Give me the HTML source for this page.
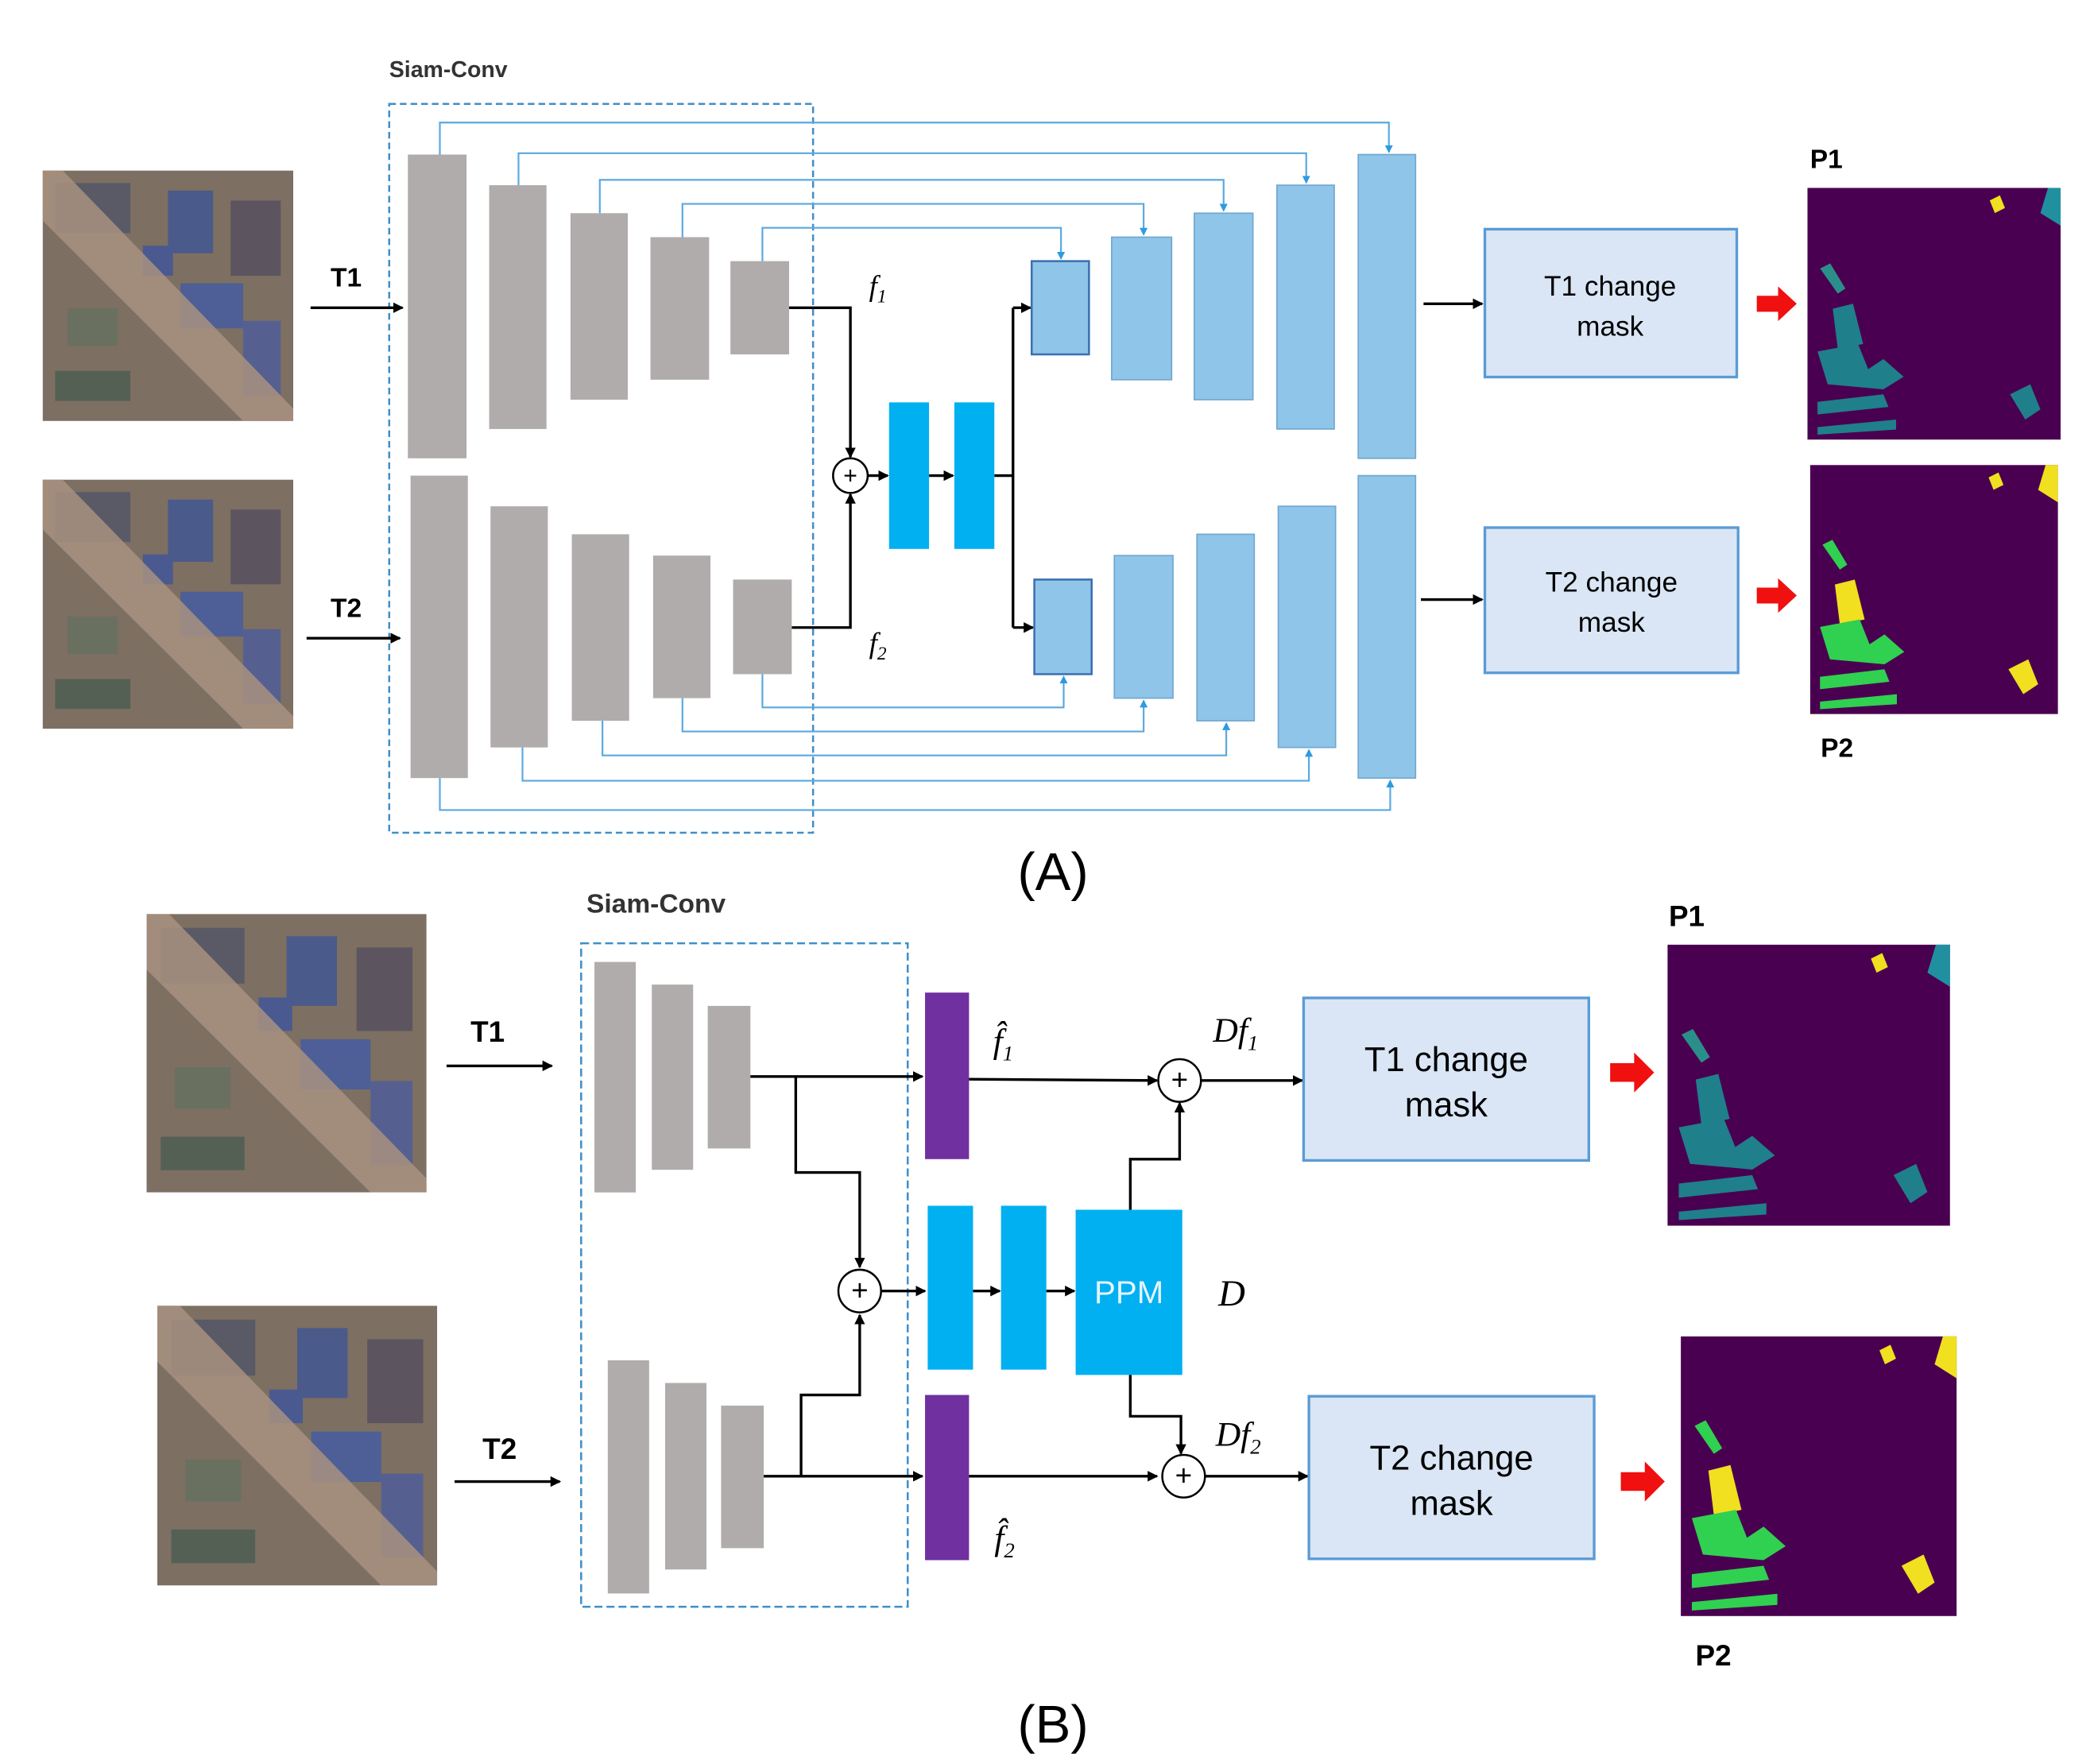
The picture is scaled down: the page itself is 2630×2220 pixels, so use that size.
<!DOCTYPE html>
<html><head><meta charset="utf-8"><style>html,body{margin:0;padding:0;background:#fff}svg{display:block}</style></head>
<body>
<svg width="2630" height="2220" viewBox="0 0 1568 1324" preserveAspectRatio="none" xmlns="http://www.w3.org/2000/svg" font-family="Liberation Sans, sans-serif">
<defs>
<marker id="ab" markerWidth="8" markerHeight="8" refX="7" refY="4" orient="auto" markerUnits="userSpaceOnUse"><path d="M0,0 L8,4 L0,8 z" fill="#000"/></marker>
<marker id="al" markerWidth="6" markerHeight="6" refX="5" refY="3" orient="auto" markerUnits="userSpaceOnUse"><path d="M0,0 L6,3 L0,6 z" fill="#2e9be0"/></marker>
<symbol id="sat" viewBox="0 0 100 100" preserveAspectRatio="none">
<rect width="100" height="100" fill="#7d6f62"/>
<rect x="5" y="5" width="30" height="20" fill="#5a5a66"/><rect x="50" y="8" width="18" height="25" fill="#4a5a8a"/>
<rect x="75" y="12" width="20" height="30" fill="#5c5560"/><rect x="55" y="45" width="25" height="18" fill="#4d5f96"/>
<rect x="80" y="60" width="15" height="30" fill="#566090"/><rect x="10" y="55" width="20" height="15" fill="#6a7060"/>
<rect x="5" y="80" width="30" height="12" fill="#556055"/><rect x="40" y="30" width="12" height="12" fill="#4a5a90"/>
<path d="M0,20 L80,100 L100,100 L100,95 L8,0 L0,0z" fill="#a89280" opacity="0.85"/>
</symbol>
<symbol id="mask" viewBox="0 0 100 100" preserveAspectRatio="none">
<rect width="100" height="100" fill="#4a0050"/>
<path d="M72,5 L76,3 L78,8 L74,10z" fill="#f0e020"/><path d="M95,0 L100,0 L100,15 L92,10z" fill="#2090a0"/>
<path d="M5,32 L9,30 L15,40 L12,42z" fill="#2a8f8a"/><path d="M10,48 L18,46 L22,62 L12,64z" fill="#1f7f8a"/>
<path d="M4,65 L20,62 L24,72 L30,68 L38,75 L30,80 L8,78z" fill="#1f7f8a"/><path d="M4,85 L30,82 L32,87 L4,90z" fill="#1f7f8a"/>
<path d="M4,95 L35,92 L35,96 L4,98z" fill="#1f7f8a"/><path d="M80,82 L88,78 L92,88 L86,92z" fill="#1f7f8a"/>
</symbol>
<symbol id="mask2" viewBox="0 0 100 100" preserveAspectRatio="none">
<rect width="100" height="100" fill="#4a0050"/>
<path d="M72,5 L76,3 L78,8 L74,10z" fill="#f0e020"/><path d="M95,0 L100,0 L100,15 L92,10z" fill="#f0e020"/>
<path d="M5,32 L9,30 L15,40 L12,42z" fill="#30d050"/><path d="M10,48 L18,46 L22,62 L12,64z" fill="#f0e020"/>
<path d="M4,65 L20,62 L24,72 L30,68 L38,75 L30,80 L8,78z" fill="#30d050"/><path d="M4,85 L30,82 L32,87 L4,90z" fill="#30d050"/>
<path d="M4,95 L35,92 L35,96 L4,98z" fill="#30d050"/><path d="M80,82 L88,78 L92,88 L86,92z" fill="#f0e020"/>
</symbol>
</defs>
<rect width="1568" height="1324" fill="#fff"/>

<!-- (A) -->
<text x="292" y="58" font-size="17" font-weight="bold" fill="#333">Siam-Conv</text>
<rect x="292" y="78" width="318" height="547" fill="none" stroke="#3f8fc8" stroke-width="1.5" stroke-dasharray="5,3"/>
<use href="#sat" x="32" y="128" width="188" height="188"/>
<use href="#sat" x="32" y="360" width="188" height="187"/>
<text x="248" y="215" font-size="20" font-weight="bold">T1</text>
<text x="248" y="463" font-size="20" font-weight="bold">T2</text>
<g stroke="#000" stroke-width="2" fill="none">
<line x1="233" y1="231" x2="302" y2="231" marker-end="url(#ab)"/>
<line x1="230" y1="479" x2="300" y2="479" marker-end="url(#ab)"/>
<polyline points="592,231 638,231 638,343" marker-end="url(#ab)"/>
<polyline points="594,471 638,471 638,371" marker-end="url(#ab)"/>
<line x1="651" y1="357" x2="666" y2="357" marker-end="url(#ab)"/>
<line x1="697" y1="357" x2="715" y2="357" marker-end="url(#ab)"/>
<line x1="746" y1="357" x2="760" y2="357"/>
<line x1="760" y1="231" x2="760" y2="471"/>
<line x1="760" y1="231" x2="773" y2="231" marker-end="url(#ab)"/>
<line x1="760" y1="471" x2="775" y2="471" marker-end="url(#ab)"/>
<line x1="1068" y1="228" x2="1112" y2="228" marker-end="url(#ab)"/>
<line x1="1066" y1="450" x2="1112" y2="450" marker-end="url(#ab)"/>
</g>
<circle cx="638" cy="357" r="13" fill="#fff" stroke="#000" stroke-width="1.5"/>
<text x="638" y="363" font-size="18" text-anchor="middle">+</text>
<g fill="#b0acab">
<rect x="306" y="116" width="44" height="228"/><rect x="367" y="139" width="43" height="183"/><rect x="428" y="160" width="43" height="140"/><rect x="488" y="178" width="44" height="107"/><rect x="548" y="196" width="44" height="70"/>
<rect x="308" y="357" width="43" height="227"/><rect x="368" y="380" width="43" height="181"/><rect x="429" y="401" width="43" height="140"/><rect x="490" y="417" width="43" height="107"/><rect x="550" y="435" width="44" height="71"/>
</g>
<g fill="#00b0f0"><rect x="667" y="302" width="30" height="110"/><rect x="716" y="302" width="30" height="110"/></g>
<g fill="#8fc5e8" stroke="#6fa8d0" stroke-width="1">
<rect x="774" y="196" width="43" height="70" stroke="#3a6fb0" stroke-width="1.5"/><rect x="834" y="178" width="45" height="107"/><rect x="896" y="160" width="44" height="140"/><rect x="958" y="139" width="43" height="183"/><rect x="1019" y="116" width="43" height="228"/>
<rect x="776" y="435" width="43" height="71" stroke="#3a6fb0" stroke-width="1.5"/><rect x="836" y="417" width="44" height="107"/><rect x="898" y="401" width="43" height="140"/><rect x="959" y="380" width="43" height="181"/><rect x="1019" y="357" width="43" height="227"/>
</g>
<g stroke="#5aa8e0" stroke-width="1.3" fill="none">
<polyline points="330,116 330,92 1042,92 1042,114" marker-end="url(#al)"/>
<polyline points="389,139 389,115 980,115 980,137" marker-end="url(#al)"/>
<polyline points="450,160 450,135 918,135 918,158" marker-end="url(#al)"/>
<polyline points="512,178 512,153 858,153 858,176" marker-end="url(#al)"/>
<polyline points="572,196 572,171 796,171 796,194" marker-end="url(#al)"/>
<polyline points="572,506 572,531 798,531 798,508" marker-end="url(#al)"/>
<polyline points="512,524 512,549 858,549 858,526" marker-end="url(#al)"/>
<polyline points="452,541 452,567 920,567 920,543" marker-end="url(#al)"/>
<polyline points="392,561 392,586 982,586 982,563" marker-end="url(#al)"/>
<polyline points="330,584 330,608 1043,608 1043,586" marker-end="url(#al)"/>
</g>
<text x="652" y="222" font-size="22" font-style="italic" font-family="Liberation Serif, serif">f<tspan font-size="14" dy="5">1</tspan></text>
<text x="652" y="490" font-size="22" font-style="italic" font-family="Liberation Serif, serif">f<tspan font-size="14" dy="5">2</tspan></text>
<rect x="1114" y="172" width="189" height="111" fill="#dae6f5" stroke="#5b9bd5" stroke-width="2"/>
<text x="1208" y="222" font-size="21" text-anchor="middle">T1 change</text><text x="1208" y="252" font-size="21" text-anchor="middle">mask</text>
<rect x="1114" y="396" width="190" height="109" fill="#dae6f5" stroke="#5b9bd5" stroke-width="2"/>
<text x="1209" y="444" font-size="21" text-anchor="middle">T2 change</text><text x="1209" y="474" font-size="21" text-anchor="middle">mask</text>
<path d="M1318,222 L1334,222 L1334,215 L1348,228 L1334,241 L1334,234 L1318,234z" fill="#f01010"/>
<path d="M1318,441 L1334,441 L1334,434 L1348,447 L1334,460 L1334,453 L1318,453z" fill="#f01010"/>
<use href="#mask" x="1356" y="141" width="190" height="189"/>
<use href="#mask2" x="1358" y="349" width="186" height="187"/>
<text x="1358" y="126" font-size="20" font-weight="bold">P1</text>
<text x="1366" y="568" font-size="20" font-weight="bold">P2</text>
<text x="790" y="668" font-size="40" text-anchor="middle">(A)</text>

<!-- (B) -->
<text x="440" y="685" font-size="20" font-weight="bold" fill="#333">Siam-Conv</text>
<rect x="436" y="708" width="245" height="498" fill="none" stroke="#3f8fc8" stroke-width="1.5" stroke-dasharray="6,3"/>
<use href="#sat" x="110" y="686" width="210" height="209"/>
<use href="#sat" x="118" y="980" width="210" height="210"/>
<text x="353" y="782" font-size="22" font-weight="bold">T1</text>
<text x="362" y="1095" font-size="22" font-weight="bold">T2</text>
<g fill="#b0acab">
<rect x="446" y="722" width="31" height="173"/><rect x="489" y="739" width="31" height="139"/><rect x="531" y="755" width="32" height="107"/>
<rect x="456" y="1021" width="31" height="175"/><rect x="499" y="1038" width="31" height="140"/><rect x="541" y="1055" width="32" height="107"/>
</g>
<g fill="#7030a0"><rect x="694" y="745" width="33" height="125"/><rect x="694" y="1047" width="33" height="124"/></g>
<g fill="#00b0f0"><rect x="696" y="905" width="34" height="123"/><rect x="751" y="905" width="34" height="123"/><rect x="807" y="908" width="80" height="124"/></g>
<text x="847" y="978" font-size="24" fill="#e6f4fc" text-anchor="middle">PPM</text>
<g stroke="#000" stroke-width="2" fill="none">
<line x1="335" y1="800" x2="414" y2="800" marker-end="url(#ab)"/>
<line x1="341" y1="1112" x2="420" y2="1112" marker-end="url(#ab)"/>
<line x1="563" y1="808" x2="692" y2="808" marker-end="url(#ab)"/>
<polyline points="597,808 597,880 645,880 645,951" marker-end="url(#ab)"/>
<line x1="573" y1="1108" x2="692" y2="1108" marker-end="url(#ab)"/>
<polyline points="601,1108 601,1047 645,1047 645,987" marker-end="url(#ab)"/>
<line x1="661" y1="969" x2="694" y2="969" marker-end="url(#ab)"/>
<line x1="730" y1="969" x2="750" y2="969" marker-end="url(#ab)"/>
<line x1="785" y1="969" x2="806" y2="969" marker-end="url(#ab)"/>
<line x1="727" y1="810" x2="868" y2="811" marker-end="url(#ab)"/>
<line x1="727" y1="1108" x2="868" y2="1108" marker-end="url(#ab)"/>
<polyline points="848,908 848,870 885,870 885,828" marker-end="url(#ab)"/>
<polyline points="848,1032 848,1063 886,1063 886,1091" marker-end="url(#ab)"/>
<line x1="901" y1="811" x2="977" y2="811" marker-end="url(#ab)"/>
<line x1="904" y1="1108" x2="981" y2="1108" marker-end="url(#ab)"/>
</g>
<circle cx="645" cy="969" r="16" fill="#fff" stroke="#000" stroke-width="1.5"/><text x="645" y="976" font-size="22" text-anchor="middle">+</text>
<circle cx="885" cy="811" r="16" fill="#fff" stroke="#000" stroke-width="1.5"/><text x="885" y="818" font-size="22" text-anchor="middle">+</text>
<circle cx="888" cy="1108" r="16" fill="#fff" stroke="#000" stroke-width="1.5"/><text x="888" y="1115" font-size="22" text-anchor="middle">+</text>
<g font-family="Liberation Serif, serif" font-style="italic">
<text x="745" y="790" font-size="26">f̂<tspan font-size="16" dy="6">1</tspan></text>
<text x="746" y="1163" font-size="26">f̂<tspan font-size="16" dy="6">2</tspan></text>
<text x="910" y="782" font-size="26">Df<tspan font-size="16" dy="6">1</tspan></text>
<text x="912" y="1085" font-size="26">Df<tspan font-size="16" dy="6">2</tspan></text>
<text x="914" y="980" font-size="28">D</text>
</g>
<rect x="978" y="749" width="214" height="122" fill="#dae6f5" stroke="#5b9bd5" stroke-width="2"/>
<text x="1085" y="804" font-size="26" text-anchor="middle">T1 change</text><text x="1085" y="838" font-size="26" text-anchor="middle">mask</text>
<rect x="982" y="1048" width="214" height="122" fill="#dae6f5" stroke="#5b9bd5" stroke-width="2"/>
<text x="1089" y="1103" font-size="26" text-anchor="middle">T2 change</text><text x="1089" y="1137" font-size="26" text-anchor="middle">mask</text>
<path d="M1208,798 L1226,798 L1226,790 L1241,805 L1226,820 L1226,812 L1208,812z" fill="#f01010"/>
<path d="M1216,1105 L1234,1105 L1234,1097 L1249,1112 L1234,1127 L1234,1119 L1216,1119z" fill="#f01010"/>
<use href="#mask" x="1251" y="709" width="212" height="211"/>
<use href="#mask2" x="1261" y="1003" width="207" height="210"/>
<text x="1252" y="695" font-size="22" font-weight="bold">P1</text>
<text x="1272" y="1250" font-size="22" font-weight="bold">P2</text>
<text x="790" y="1308" font-size="40" text-anchor="middle">(B)</text>
</svg>
</body></html>
